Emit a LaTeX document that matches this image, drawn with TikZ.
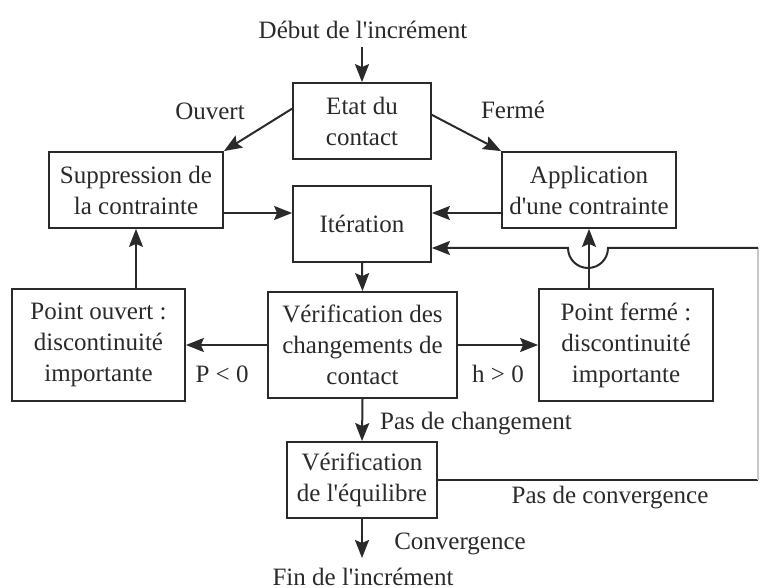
\documentclass[tikz,border=0pt]{standalone}
\usepackage{fontspec}
\setmainfont{Liberation Serif}
\usepackage{tikz}
\usetikzlibrary{arrows.meta,positioning}
\definecolor{ink}{HTML}{2A2A2A}
\definecolor{faintink}{HTML}{C8C8C8}
\newcommand{\flowfont}{\fontsize{12.5}{15.5}\selectfont}
\tikzset{
  stepbox/.style 2 args={
    rectangle, draw=ink, line width=0.9pt, text=ink,
    minimum width=#1, minimum height=#2, align=center,
    inner sep=0pt, font=\flowfont
  },
  flowarrow/.style={
    -{Stealth[length=9pt,width=7pt,inset=1.5pt]}, line width=1pt, draw=ink
  },
  flowline/.style={
    line width=1pt, draw=ink
  },
  lbl/.style={
    font=\flowfont, text=ink, inner sep=0pt
  },
}

\begin{document}
\begin{tikzpicture}[x=0.5pt,y=-0.5pt]
  \useasboundingbox (0,0) rectangle (760,588);

  %% Boxes
  \node[stepbox={69pt}{38pt}] (etat) at (362,121) {Etat du\\contact};
  \node[stepbox={87pt}{38pt}] (suppr) at (136,190) {Suppression de\\la contrainte};
  \node[stepbox={87pt}{38pt}] (appli) at (589,190) {Application\\d{\textquotesingle}une contrainte};
  \node[stepbox={69pt}{38pt}] (iter) at (362,224) {Itération};
  \node[stepbox={86.5pt}{56pt}] (pouv) at (98.5,345) {Point ouvert~:\\discontinuité\\importante};
  \node[stepbox={94.5pt}{53pt}] (verifc) at (362.5,345) {Vérification des\\changements de\\contact};
  \node[stepbox={87pt}{56pt}] (pferm) at (626,345) {Point fermé~:\\discontinuité\\importante};
  \node[stepbox={75pt}{38pt}] (verife) at (362,480) {Vérification\\de l{\textquotesingle}équilibre};

  %% Free ends and levels
  \coordinate (debut) at (362,47);
  \coordinate (fin) at (362,558);
  \coordinate (lvlA) at (0,213);
  \coordinate (lvlB) at (0,248);
  \coordinate (cornerA) at (758,480);
  \coordinate (cornerB) at (758,248);
  \coordinate (humpR) at (608,248);

  %% Texts
  \node[lbl] (tdebut) at (363,30) {Début de l{\textquotesingle}incrément};
  \node[lbl] (tfin) at (363,577) {Fin de l{\textquotesingle}incrément};
  \node[lbl] (touv) at (210,111) {Ouvert};
  \node[lbl] (tferm) at (513,110) {Fermé};
  \node[lbl] (tpneg) at (222,374) {P < 0};
  \node[lbl] (thpos) at (498,374) {h > 0};
  \node[lbl] (tchg) at (476,424) {Pas de changement};
  \node[lbl] (tnocv) at (610,498) {Pas de convergence};
  \node[lbl] (tcv) at (460,544) {Convergence};

  %% Connectors
  \draw[flowarrow] (debut) -- (etat.north);
  \draw[flowarrow] (etat.170) -- (suppr.north east);
  \draw[flowarrow] (etat.5) -- (appli.north west);
  \draw[flowarrow] (suppr.east |- lvlA) -- (iter.west |- lvlA);
  \draw[flowarrow] (appli.west |- lvlA) -- (iter.east |- lvlA);
  \draw[flowarrow] (iter.south) -- (verifc.north);
  \draw[flowarrow] (verifc.west) -- (pouv.east |- verifc.west);
  \draw[flowarrow] (verifc.east) -- (pferm.west |- verifc.east);
  \draw[flowarrow] (pouv.north -| suppr.south) -- (suppr.south);
  \draw[flowarrow] (pferm.north -| appli.south) -- (appli.south);
  \draw[flowarrow] (verifc.south) -- (verife.north);
  \draw[flowarrow] (verife.south) -- (fin);

  %% Loop back when no convergence
  \draw[flowline] (verife.east) -- (cornerA);
  \draw[line width=0.6pt, draw=faintink] (cornerA) -- (cornerB);
  \draw[flowarrow] (cornerB) -- (humpR)
    arc[start angle=0, end angle=180, radius=20] -- (iter.east |- lvlB);
\end{tikzpicture}
\end{document}
